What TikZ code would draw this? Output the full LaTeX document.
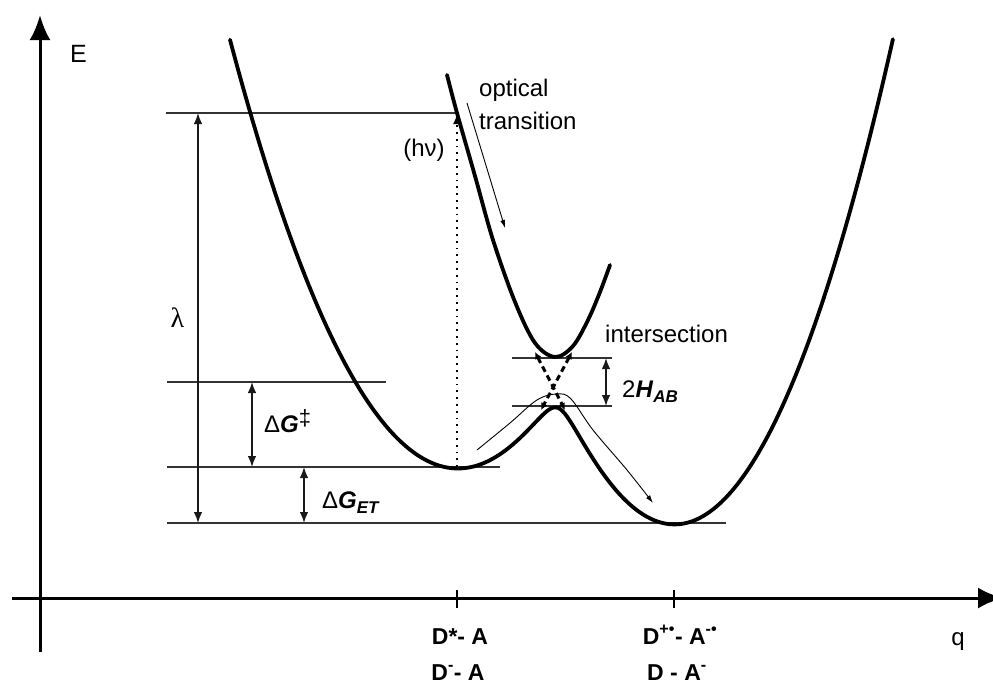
\documentclass[tikz,border=0pt]{standalone}
\usepackage{fontspec}
\setmainfont{Liberation Sans}
\newfontfamily\greekserif{Liberation Serif}
\usetikzlibrary{arrows.meta}
\begin{document}
\begin{tikzpicture}[x=1pt,y=-1pt,
  thinline/.style={line width=1.2pt, black!80},
  curve/.style={line width=3.8pt, black, line cap=round},
  axis/.style={line width=3pt, -{Latex[length=25pt,width=21pt]}},
  dim/.style={line width=1.4pt, black!90, {Latex[length=11pt,width=8.5pt]}-{Latex[length=11pt,width=8.5pt]}},
  thinarrow/.style={line width=0.9pt, -{Latex[length=8pt,width=5pt]}},
  lbl/.style={font=\fontsize{24}{28}\selectfont, inner sep=0pt},
  blbl/.style={font=\fontsize{23}{27}\selectfont\bfseries, inner sep=0pt},
  declare function={yA(\t)=4.67-0.83*(\t-4.57)^2; yB(\t)=5.23-1.02*(\t-6.75)^2;
    ylow(\t)=(yA(\t)+yB(\t))/2+sqrt(((yA(\t)-yB(\t))/2)^2+0.0625);}
]
\useasboundingbox (0,0) rectangle (993,686);

% axes
\coordinate (yb) at (40,652); \coordinate (yt) at (40,15);
\coordinate (xl) at (12,598); \coordinate (xr) at (1003,598);
\draw[axis] (yb) -- (yt);
\draw[axis] (xl) -- (xr);
\coordinate (t1a) at (457,590); \coordinate (t1b) at (457,608);
\coordinate (t2a) at (674,590); \coordinate (t2b) at (674,608);
\draw[line width=1.5pt] (t1a) -- (t1b);
\draw[line width=1.5pt] (t2a) -- (t2b);

% level lines
\coordinate (l1a) at (166,113); \coordinate (l1b) at (456,113);
\coordinate (l2a) at (167,382); \coordinate (l2b) at (386,382);
\coordinate (l3a) at (167,467); \coordinate (l3b) at (500,467);
\coordinate (l4a) at (167,523); \coordinate (l4b) at (726,523);
\coordinate (h1a) at (512,358); \coordinate (h1b) at (612,358);
\coordinate (h2a) at (512,406); \coordinate (h2b) at (612,406);
\foreach \a/\b in {l1a/l1b,l2a/l2b,l3a/l3b,l4a/l4b,h1a/h1b,h2a/h2b}
  \draw[thinline] (\a) -- (\b);

% dimension arrows
\coordinate (lamT) at (198,113); \coordinate (lamB) at (198,523);
\coordinate (dgT) at (252,382); \coordinate (dgB) at (252,467);
\coordinate (etT) at (304,467); \coordinate (etB) at (304,523);
\coordinate (haT) at (606,358); \coordinate (haB) at (606,406);
\draw[dim] (lamT) -- (lamB);
\draw[dim] (dgT) -- (dgB);
\draw[dim] (etT) -- (etB);
\draw[dim] (haT) -- (haB);

% potential curves
\draw[curve] plot[domain=2.30:8.93, samples=300, smooth] ({100*\x},{100*ylow(\x)});
\draw[curve] plot[smooth, tension=0.55] coordinates {(447,75) (457,113) (475,176) (493,240) (515,302) (535,343) (555,357) (573,346) (588,320) (600,292) (610,265)};

% dashed crossing
\coordinate (xa1) at (535,352); \coordinate (xa2) at (565,410);
\coordinate (xb1) at (572,352); \coordinate (xb2) at (541,410);
\draw[line width=3pt, dash pattern=on 6pt off 4pt, {Latex[length=7pt,width=7pt]}-{Latex[length=7pt,width=7pt]}] (xa1) -- (xa2);
\draw[line width=3pt, dash pattern=on 6pt off 4pt, {Latex[length=7pt,width=7pt]}-{Latex[length=7pt,width=7pt]}] (xb1) -- (xb2);

% optical transition (dotted)
\coordinate (dotB) at (457,467); \coordinate (dotT) at (457,114);
\draw[line width=1.8pt, dash pattern=on 1.8pt off 5pt, -{Latex[length=10pt,width=8pt]}] (dotB) -- (dotT);

% thin arrows
\coordinate (otA) at (467,103); \coordinate (otB) at (505,228);
\draw[thinarrow] (otA) -- (otB);
\draw[thinarrow] plot[smooth, tension=0.6] coordinates {(477,450) (510,423) (537,400) (557,394) (571,399) (593,430) (627,470) (653,503)};

% labels
\node[lbl, anchor=base west] (E) at (70,62) {\fontsize{25}{28}\selectfont E};
\node[lbl] (q) at (958,642) {q};
\node[lbl, anchor=base west] (opt) at (479,96) {optical};
\node[lbl, anchor=base west] (tra) at (479,129) {transition};
\node[lbl] (hnu) at (424,150) {(hν)};
\node[lbl, anchor=base west] (inter) at (605,342) {intersection};
\node[lbl] (lam) at (177.5,318) {\greekserif\fontsize{28}{30}\selectfont λ};
\node[lbl, anchor=base west] (dG) at (264,432) {Δ\textbf{\textit{G}}\raisebox{7pt}{\fontsize{22}{24}\selectfont‡}};
\node[lbl, anchor=base west] (dGet) at (322,508) {Δ\textbf{\textit{G}}\raisebox{-5pt}{\fontsize{17}{20}\selectfont\bfseries\itshape ET}};
\node[lbl, anchor=base west] (hab) at (622,397) {2\textbf{\textit{H}}\raisebox{-5pt}{\fontsize{17}{20}\selectfont\bfseries\itshape AB}};

\node[blbl, anchor=base] (s1) at (460,644) {D*- A};
\node[blbl, anchor=base] (s2) at (458,680) {D\textsuperscript{-}- A};
\node[blbl, anchor=base] (s3) at (680,644) {D\textsuperscript{+•}- A\textsuperscript{-•}};
\node[blbl, anchor=base] (s4) at (677,680) {D - A\textsuperscript{-}};
\end{tikzpicture}
\end{document}
